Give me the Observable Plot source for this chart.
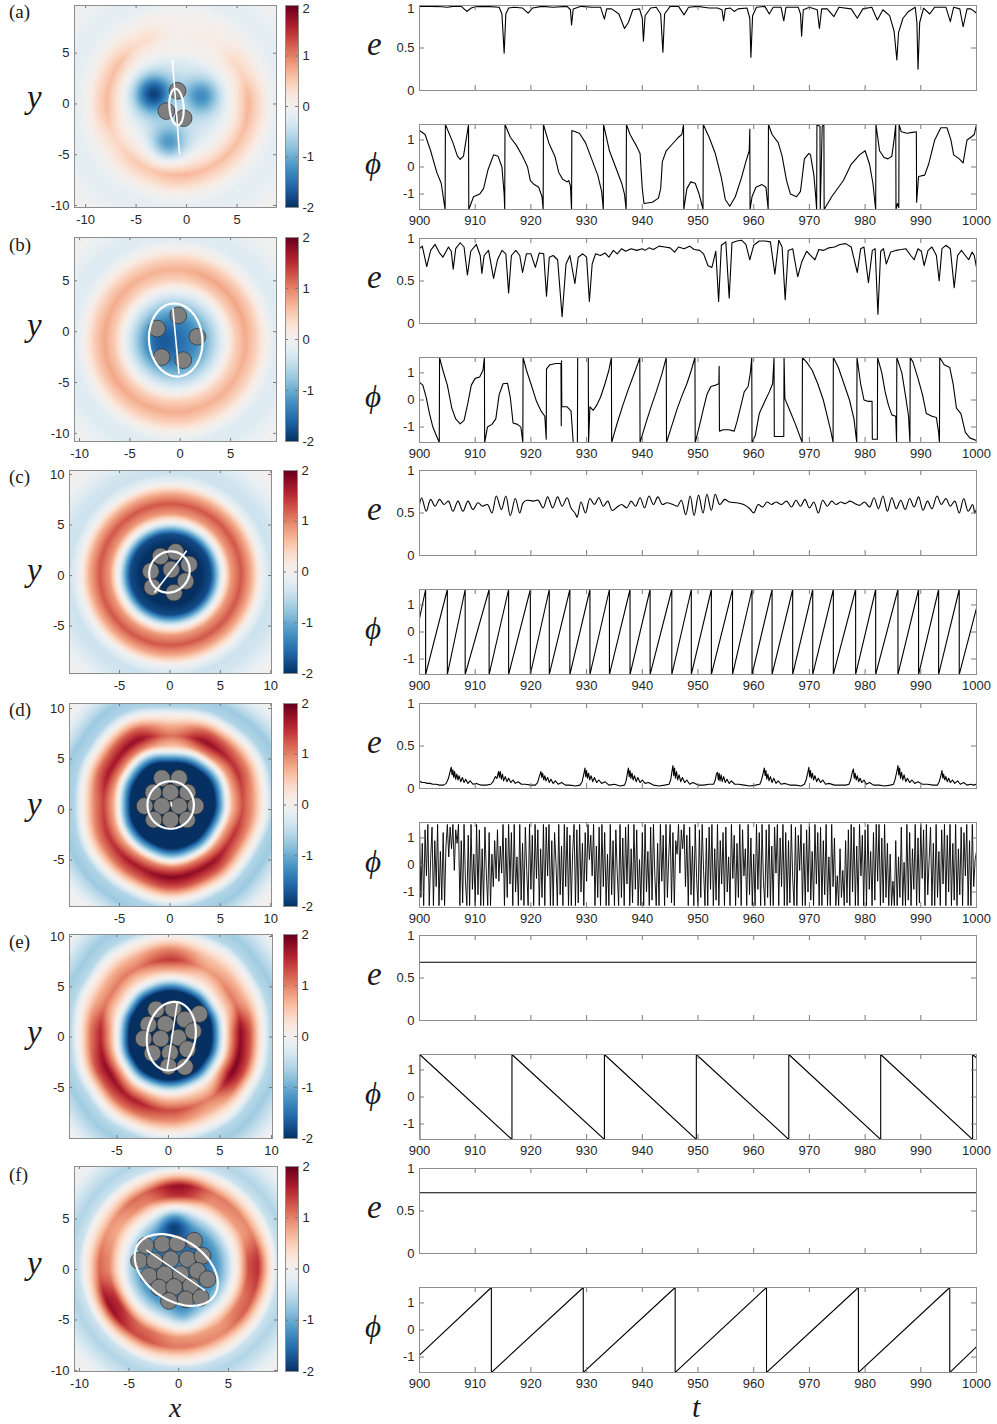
<!DOCTYPE html>
<html><head><meta charset="utf-8">
<script src="https://cdn.jsdelivr.net/npm/d3@7"></script>
<script src="https://cdn.jsdelivr.net/npm/@observablehq/plot@0.6"></script>
<style>
body{margin:0;background:#fff;}
#fig{position:relative;width:997px;height:1424px;overflow:hidden;background:#fff;}
</style></head>
<body><div id="fig"></div>
<script>
// ---------------- DATA ----------------
const HP = 1.5708;
const tTicks = [900,910,920,930,940,950,960,970,980,990,1000];
const eTicks = [0,0.5,1];
const phiTicks = [-1,0,1];
const cbTicks = [-2,-1,0,1,2];
const panelLetters = ["(a)","(b)","(c)","(d)","(e)","(f)"];

// heat-map fields: centre, radial profile (r = 0..14), ring strength at 0°,30°..330°, radial stretch, blobs [x,y,amp,width]
const centA = [-0.9, 0.0];
const profA = [-0.3,-0.35,-0.4,-0.35,-0.25,-0.05,0.3,0.68,0.38,0.0,-0.15,-0.2,-0.12,-0.05,0];
const ampA = [1.0,0.6,0.2,0.1,0.5,0.9,0.95,0.6,0.8,1.0,0.9,0.9];
const shapeA = [1,1,1,1,1,1,1,1,1,1,1,1];
const blobsA = [[-3.3,1.0,-1.5,1.3],[1.5,0.8,-0.9,1.2],[-1.8,-3.9,-0.9,1.2]];

const centB = [-0.5,-0.9];
const profB = [-1.35,-1.35,-1.25,-0.95,-0.5,-0.05,0.5,0.78,0.5,0.05,-0.22,-0.25,-0.15,-0.05,0];
const ampB = [0.95,1,1,0.9,0.9,0.95,1,1,0.95,0.95,0.9,0.9];
const shapeB = [1,1,1,1,1,1,1,1,1,1,1,1];
const blobsB = [[-2,-1,-0.35,1.6]];

const centC = [0.05,0.1];
const profC = [-2,-2,-2,-2,-1.8,-0.25,0.85,1.25,0.75,-0.05,-0.4,-0.35,-0.2,-0.05,0.05];
const ampC = [1,1,1,1,1,1,1,1,1,1,1,1];
const shapeC = [1,1,1,1,1,1,1,1,1,1,1,1];
const blobsC = [];

const centD = [0.2,0.5];
const profD = [-2.5,-2.5,-2.5,-2.5,-2.4,-0.8,1.0,1.85,1.25,0.2,-0.6,-0.72,-0.4,-0.1,0.1];
const ampD = [0.7,0.8,0.95,0.6,0.95,0.9,0.75,0.8,0.9,1.0,0.95,0.8];
const shapeD = [1,1.03,1,0.97,1.03,1,0.97,1,1,1.03,1,0.97];
const blobsD = [];

const centE = [0.2,0.2];
const profE = [-2.5,-2.5,-2.5,-2.4,-2.2,-0.5,0.9,1.9,1.3,0.2,-0.55,-0.7,-0.45,-0.15,0.05];
const ampE = [0.95,0.55,0.45,0.75,0.55,0.55,0.82,0.95,0.85,0.7,0.55,1.0];
const shapeE = [0.97,1,1.05,1.07,1.05,1,0.97,1,1.05,1.07,1.05,1];
const blobsE = [[-1.5,-1.5,-0.6,1.5]];

const centF = [0,0.3];
const profF = [-1.3,-1.4,-1.5,-1.4,-1.1,-0.5,0.3,1.5,1.75,0.5,-0.4,-0.6,-0.4,-0.15,0];
const ampF = [0.85,0.55,0.6,1.0,0.65,0.5,0.65,1.0,0.75,0.6,0.55,0.7];
const shapeF = [1,1,1,1,1,1,1,1,1,1,1,1];
const blobsF = [[-0.5,4.5,-0.8,1.0],[0.5,-4.8,-0.4,1.0]];

// particles
const partsA = [[-0.9,1.3],[-2.0,-0.7],[-0.3,-1.4]];
const partsB = [[-0.2,1.6],[-2.3,0.3],[1.7,-0.5],[-1.85,-2.5],[0.3,-2.8]];
const partsC = [[-0.93,1.9],[0.56,2.34],[1.9,1.1],[0.13,0.6],[-1.9,0.43],[1.55,-0.56],[-1.75,-1.15],[0.4,-1.7]];
const partsD = [[-0.8,3.1],[0.9,3.1],[-1.65,1.7],[0.05,1.7],[1.75,1.7],[-2.5,0.35],[-0.8,0.35],[0.9,0.35],[2.55,0.35],[-1.6,-1.0],[0.05,-1.0],[1.7,-1.0]];
const partsE = [[-1.2,2.75],[0.45,2.8],[3.0,2.3],[1.6,1.75],[-1.95,1.25],[-0.3,1.3],[-2.4,-0.15],[-0.75,-0.15],[0.95,-0.05],[2.4,0.6],[-1.55,-1.6],[0.15,-1.55],[1.85,-1.2],[0.0,-2.9],[1.6,-2.95]];
const partsF = [[-3.33,2.35],[-1.65,2.52],[-0.13,2.58],[1.55,2.85],[-4.0,0.86],[-2.42,0.86],[-0.81,1.03],[0.88,1.03],[2.39,1.36],[-3.0,-0.63],[-1.41,-0.46],[0.2,-0.46],[1.89,-0.13],[2.9,-0.96],[-1.99,-1.79],[-0.47,-1.72],[1.21,-1.62],[-0.98,-3.11],[0.71,-2.95],[2.22,-2.78]];

// ellipses [cx, cy, semi-axis a, semi-axis b, angle°] and axis segments
const ellA = [-1.0,-0.3,1.8,0.7,94];   const segA = [[-1.4,4.3],[-0.7,-4.9]];
const ellB = [-0.45,-0.82,3.6,2.65,95]; const segB = [[-0.73,2.28],[-0.13,-4.08]];
const ellC = [-0.05,0.35,2.1,1.95,52];  const segC = [[-1.52,-1.65],[1.62,2.41]];
const ellD = [0.07,0.45,2.35,2.3,90];   const segD = [[0.1,0.75],[0.15,0.35]];
const ellE = [0.28,0.1,3.43,2.35,81];   const segE = [[-0.13,-3.23],[0.84,3.33]];
const ellF = [-0.25,-0.05,4.6,3.0,-33]; const segF = [[-3.2,1.9],[2.6,-2.05]];

// time series e(t)
const eA = [[900,.99],[902,.99],[904,.985],[905,.98],[906,.99],[907.5,.99],[908.5,.93],[909.3,.97],[910,.985],[912,.99],[914.3,.98],[914.8,.9],[915.2,.44],[915.5,.9],[916,.97],[917,.98],[918.5,.97],[919.5,.91],[920.3,.97],[922,.99],[924,.98],[926.5,.99],[927.1,.95],[927.3,.77],[927.6,.96],[929,.99],[931,.98],[932.5,.98],[933.2,.84],[933.6,.96],[934.5,.96],[935.8,.9],[936.8,.73],[937.5,.8],[938.3,.95],[939.5,.96],[940,.85],[940.2,.58],[940.5,.88],[941.5,.97],[942.5,.98],[943.3,.9],[943.7,.45],[944,.9],[945,.99],[946.5,.99],[947.5,.89],[948.3,.98],[950,.99],[951,.98],[952,.97],[953.5,.97],[954.3,.95],[954.6,.82],[954.9,.96],[955.8,.97],[956.5,.93],[957.2,.96],[958.8,.97],[959.3,.85],[959.5,.39],[959.8,.88],[960.5,.98],[962,.99],[962.8,.9],[963.5,.98],[964.9,.98],[965.4,.82],[965.8,.98],[968,.98],[968.4,.9],[968.6,.64],[968.9,.95],[970,.98],[971.4,.95],[971.8,.73],[972.2,.96],[973.2,.96],[974.4,.87],[975.3,.98],[977.5,.96],[978.6,.85],[979.6,.96],[981.2,.98],[982.2,.83],[983.2,.95],[984.4,.88],[985.2,.7],[985.7,.36],[986,.68],[986.8,.85],[987.8,.93],[989,.98],[989.3,.8],[989.5,.25],[989.8,.8],[990.5,.97],[991.6,.9],[992.5,.98],[994.5,.98],[995.3,.81],[995.9,.98],[997,.96],[997.6,.75],[998.3,.96],[999,.96],[1000,.91]];
const eB = [[900,.88],[900.5,.91],[901.3,.67],[902,.86],[902.8,.93],[903.5,.84],[904.2,.78],[905.2,.9],[905.7,.85],[906.05,.64],[906.5,.88],[907.3,.95],[908,.9],[908.6,.57],[909.2,.85],[910.2,.93],[910.9,.8],[911.2,.59],[911.6,.8],[912.4,.86],[913.3,.53],[914,.75],[914.8,.86],[915.5,.82],[916,.36],[916.5,.8],[917.3,.86],[918,.8],[918.5,.6],[919.2,.82],[920,.82],[920.8,.66],[921.5,.83],[922.3,.82],[922.8,.32],[923.3,.78],[924,.8],[924.8,.75],[925.6,.08],[926.3,.7],[927,.8],[927.9,.47],[928.5,.78],[929.3,.82],[930,.78],[930.5,.26],[931,.7],[931.6,.82],[932.5,.8],[933.3,.83],[934,.78],[934.8,.86],[935.5,.82],[936.3,.88],[937,.85],[938,.88],[939,.86],[940,.88],[940.5,.86],[941.2,.89],[942,.87],[943,.91],[944,.9],[945,.89],[945.8,.84],[946.5,.9],[947.5,.88],[948.5,.91],[949.3,.87],[950.3,.86],[951,.82],[951.8,.68],[952.5,.66],[953.2,.85],[953.7,.26],[954.2,.92],[955,.96],[955.6,.3],[956.1,.95],[957,.97],[957.8,.98],[958.6,.93],[959.3,.75],[960,.92],[961,.97],[962,.97],[963,.96],[963.8,.58],[964.5,.98],[965.1,.9],[965.65,.28],[966.2,.86],[967,.88],[967.9,.55],[968.6,.72],[969.5,.85],[970.5,.78],[971,.75],[971.7,.87],[972.5,.86],[973.5,.89],[974.5,.9],[975.5,.93],[976.5,.94],[977.5,.9],[978.6,.6],[979.2,.88],[979.8,.9],[980.6,.48],[981.3,.86],[981.8,.88],[982.3,.11],[982.8,.85],[983.3,.88],[983.8,.7],[984.6,.84],[985.5,.86],[986.5,.87],[987.3,.88],[988.2,.8],[988.8,.75],[989.5,.88],[990.1,.85],[990.6,.68],[991.3,.86],[992,.9],[992.8,.8],[993.3,.5],[993.8,.88],[994.5,.92],[995.3,.88],[996,.42],[996.6,.8],[997.3,.86],[998,.8],[998.6,.75],[999.2,.84],[999.6,.8],[1000,.66]];
const eC = [[900,.6],[900.4,.68],[901.2,.52],[902,.66],[902.8,.58],[903.6,.66],[904.4,.6],[905.2,.64],[906,.52],[906.9,.64],[907.8,.52],[908.7,.64],[909.6,.54],[910.5,.62],[911.3,.58],[912.2,.6],[913,.5],[913.8,.7],[914.7,.54],[915.5,.7],[916.3,.47],[917.2,.67],[918,.5],[918.6,.62],[919.3,.65],[920.5,.64],[921.3,.65],[922.2,.56],[923,.69],[923.9,.56],[924.8,.69],[925.6,.58],[926.5,.68],[927.2,.56],[928,.49],[928.3,.45],[929,.63],[929.8,.5],[930.6,.67],[931.4,.6],[932.2,.68],[933,.58],[933.8,.64],[934.6,.53],[935.5,.57],[936.3,.6],[937.2,.56],[938,.64],[938.8,.58],[939.6,.68],[940.4,.56],[941.2,.7],[942,.6],[942.8,.69],[943.6,.6],[944.4,.62],[945.5,.6],[946.3,.58],[947,.65],[947.8,.48],[948.6,.7],[949.3,.47],[950.1,.71],[950.9,.5],[951.6,.72],[952.4,.53],[953.1,.72],[953.9,.6],[954.8,.66],[955.6,.63],[957,.62],[958.2,.6],[959.3,.55],[960,.5],[960.8,.6],[961.6,.57],[962.4,.63],[963.2,.6],[964,.63],[965,.6],[965.9,.64],[966.8,.57],[967.6,.65],[968.4,.58],[969.2,.66],[970,.56],[970.8,.63],[971.6,.5],[972.4,.65],[973.2,.58],[974,.64],[974.8,.6],[975.6,.63],[976.4,.61],[977.3,.64],[978.2,.61],[979,.59],[979.9,.63],[980.8,.57],[981.6,.68],[982.4,.55],[983.2,.7],[984,.52],[984.8,.68],[985.6,.55],[986.4,.65],[987.2,.54],[988,.67],[988.8,.57],[989.6,.69],[990.4,.53],[991.2,.64],[992,.55],[992.9,.7],[993.7,.6],[994.5,.67],[995.3,.58],[996.1,.64],[996.9,.5],[997.7,.67],[998.5,.52],[999.3,.6],[999.7,.5],[1000,.55]];
const eD = [[900,.09],[900.4,.07],[900.9,.07],[901.4,.06],[901.9,.06],[902.4,.05],[903,.05],[903.6,.04],[904.3,.04],[904.8,.06],[905.2,.12],[905.5,.2],[905.7,.25],[905.85,.16],[906,.22],[906.15,.13],[906.3,.2],[906.5,.11],[906.7,.17],[906.9,.1],[907.1,.15],[907.4,.08],[907.7,.13],[908,.07],[908.3,.11],[908.7,.06],[909.1,.09],[909.6,.05],[910.2,.06],[911,.04],[912,.04],[912.8,.05],[913.2,.08],[913.6,.14],[913.9,.12],[914.2,.2],[914.35,.13],[914.5,.2],[914.7,.11],[914.9,.17],[915.1,.09],[915.4,.14],[915.7,.08],[916,.12],[916.4,.07],[916.8,.1],[917.2,.06],[917.7,.08],[918.3,.05],[919,.05],[920,.04],[920.8,.04],[921.2,.07],[921.5,.14],[921.8,.2],[921.95,.13],[922.1,.18],[922.3,.1],[922.5,.15],[922.7,.09],[923,.13],[923.3,.07],[923.6,.11],[924,.06],[924.4,.09],[924.9,.05],[925.5,.07],[926.2,.04],[927,.04],[928,.03],[928.8,.04],[929.2,.08],[929.5,.17],[929.7,.24],[929.85,.14],[930,.21],[930.15,.12],[930.35,.18],[930.55,.1],[930.8,.15],[931.1,.08],[931.4,.13],[931.8,.07],[932.2,.1],[932.7,.06],[933.3,.08],[934,.04],[935,.05],[936,.03],[936.8,.04],[937.1,.09],[937.3,.17],[937.5,.24],[937.65,.14],[937.8,.21],[937.95,.12],[938.15,.18],[938.35,.1],[938.6,.15],[938.9,.08],[939.2,.13],[939.6,.07],[940,.1],[940.5,.06],[941.1,.07],[942,.04],[943,.03],[944,.04],[944.8,.05],[945.1,.1],[945.3,.19],[945.5,.27],[945.65,.15],[945.8,.24],[945.95,.12],[946.15,.2],[946.35,.1],[946.6,.16],[946.9,.08],[947.2,.13],[947.6,.07],[948,.1],[948.5,.05],[949.1,.07],[950,.04],[951,.04],[952,.05],[952.8,.05],[953.1,.1],[953.3,.17],[953.5,.19],[953.65,.1],[953.8,.18],[953.95,.09],[954.15,.16],[954.35,.08],[954.6,.14],[954.9,.07],[955.2,.11],[955.6,.06],[956,.09],[956.6,.05],[957.3,.05],[958.3,.04],[959.3,.03],[960.3,.04],[961.1,.05],[961.4,.1],[961.7,.18],[961.9,.24],[962.05,.15],[962.2,.21],[962.35,.11],[962.55,.17],[962.75,.09],[963,.14],[963.3,.07],[963.6,.12],[964,.06],[964.4,.09],[964.9,.05],[965.6,.06],[966.5,.04],[967.5,.04],[968.5,.03],[969.1,.05],[969.4,.1],[969.7,.18],[969.9,.25],[970.05,.14],[970.2,.21],[970.35,.12],[970.55,.18],[970.75,.1],[971,.15],[971.3,.08],[971.6,.12],[972,.07],[972.4,.1],[972.9,.05],[973.5,.06],[974.5,.04],[975.5,.04],[976.5,.04],[977.1,.05],[977.4,.1],[977.7,.19],[977.9,.23],[978.05,.12],[978.2,.18],[978.4,.1],[978.6,.15],[978.85,.08],[979.1,.12],[979.4,.07],[979.8,.1],[980.2,.05],[980.8,.07],[981.5,.04],[982.5,.04],[983.5,.03],[984.5,.04],[985.1,.05],[985.4,.11],[985.7,.2],[985.9,.27],[986.05,.16],[986.2,.24],[986.35,.12],[986.55,.19],[986.75,.1],[987,.16],[987.3,.08],[987.6,.12],[988,.07],[988.4,.1],[988.9,.06],[989.5,.08],[990.3,.05],[991.2,.05],[992.2,.04],[993,.04],[993.3,.08],[993.6,.15],[993.8,.21],[993.95,.12],[994.1,.17],[994.3,.1],[994.5,.14],[994.75,.08],[995,.12],[995.3,.07],[995.7,.1],[996.1,.06],[996.6,.09],[997.1,.05],[997.7,.07],[998.3,.04],[999,.05],[999.5,.04],[1000,.05]];
const eE = [[900,0.685],[1000,0.685]];
const eF = [[900,0.715],[1000,0.715]];

// time series phi(t)
const phiA = [[900,1.35],[901,1.2],[902,0.6],[903.1,-0.2],[903.9,-0.6],[904.4,-1.3],[904.6,-1.57],[904.65,1.57],[906,0.9],[906.8,0.4],[907.3,0.28],[907.9,0.4],[908.6,1.3],[908.8,1.57],[908.85,-1.57],[909.7,-1.1],[910.8,-1.0],[911.5,-0.8],[912.3,-0.1],[913.3,0.45],[914.1,0.4],[914.8,0.0],[915.2,-1.0],[915.3,-1.57],[915.35,1.57],[916.3,1.1],[917.4,0.8],[918.5,0.4],[919.4,0.0],[919.9,-0.5],[920.6,-0.65],[921.4,-0.75],[922,-1.1],[922.2,-1.57],[922.25,1.57],[923.2,0.9],[924.3,0.4],[925,-0.2],[925.7,-0.45],[926.5,-0.55],[926.8,-0.5],[927.1,-0.7],[927.3,-1.57],[927.35,1.35],[928.7,1.25],[929.8,0.9],[930.9,0.3],[932,-0.3],[932.7,-0.9],[933,-1.57],[933.05,1.57],[934.1,0.6],[935.2,0.0],[936.3,-0.6],[936.8,-1.0],[937.1,-1.57],[937.15,1.57],[937.8,1.2],[938.9,0.8],[939.6,0.5],[940,-0.8],[940.3,-1.35],[941.8,-1.3],[942.9,-1.15],[943.3,-0.8],[943.6,0.2],[944.3,0.6],[945.4,0.85],[946.5,1.1],[947.1,1.2],[947.4,1.57],[947.45,-1.57],[948,-0.8],[948.7,-0.55],[949.5,-0.6],[950.2,-1.0],[950.9,-1.57],[950.95,1.57],[952,1.1],[953.1,0.5],[954.2,-0.4],[954.9,-1.2],[955.7,-1.45],[956.7,-1.1],[957.8,-0.4],[958.6,0.2],[959.2,0.6],[959.3,1.4],[959.35,-1.57],[959.7,-1.1],[960.4,-0.75],[961.5,-0.65],[962.2,-0.75],[962.6,-1.57],[962.65,1.57],[963.3,1.2],[964.4,0.9],[965.1,0.4],[965.9,-0.5],[966.6,-1.0],[967.7,-1.1],[968.4,-0.9],[969.1,0.3],[969.9,0.5],[970.2,0.45],[970.8,-0.3],[971.1,-1.0],[971.3,-1.57],[971.35,1.57],[971.9,1.5],[971.95,-1.57],[972.3,1.5],[972.6,1.57],[972.65,-1.57],[974,-1.1],[976.1,-0.5],[977.5,0.1],[979,0.45],[980,0.6],[980.8,0.1],[981.4,-0.6],[981.9,-1.57],[981.95,1.57],[982.6,0.6],[983.4,0.35],[984.1,0.3],[984.8,0.4],[985.2,1.0],[985.5,1.57],[985.55,-1.57],[985.8,-1.35],[986.05,-1.5],[986.1,1.57],[986.5,1.3],[987.5,1.25],[988.5,1.28],[989.2,1.3],[989.25,-1.3],[989.6,-0.35],[990.7,-0.3],[991.4,0.1],[992.5,1.0],[993.6,1.45],[994.7,1.45],[995.4,1.0],[995.9,0.45],[996.9,0.3],[997.6,0.15],[998.3,1.0],[999,1.1],[999.6,1.2],[1000,1.57]];
const phiB = [[900,0.65],[900.6,0.55],[901.2,0.1],[901.8,-0.5],[902.4,-1.0],[903,-1.3],[903.55,-1.57],[903.6,1.57],[904.2,1.1],[905,0.55],[905.8,-0.3],[906.5,-0.7],[907.3,-0.88],[908,-0.75],[908.7,-0.1],[909.3,0.55],[910,0.8],[910.8,0.85],[911.4,1.1],[911.65,1.57],[911.7,-1.57],[912.2,-1.0],[913,-0.9],[913.7,-0.7],[914.3,0.2],[915,0.6],[915.8,0.62],[916.3,0.1],[916.8,-0.85],[917.6,-0.9],[918.2,-1.0],[918.55,-1.57],[918.6,1.57],[919.2,1.1],[920,0.6],[921,-0.05],[921.8,-0.4],[922.5,-0.6],[922.75,-1.45],[922.8,1.15],[923.4,1.3],[924.5,1.35],[925.4,1.35],[925.45,-0.95],[925.5,1.45],[925.55,-0.25],[926.5,-0.25],[927.2,-0.4],[927.6,-1.57],[928.35,-1.57],[928.4,1.57],[930.3,1.57],[930.35,-1.57],[930.6,-0.25],[931.2,-0.38],[931.8,-0.2],[932.5,0.1],[933.3,0.6],[934,1.1],[934.45,1.57],[934.5,-1.57],[935.5,-0.85],[936.5,-0.2],[937.5,0.4],[938.5,0.95],[939.2,1.35],[939.55,1.57],[939.6,-1.57],[940.5,-0.95],[941.5,-0.3],[942.5,0.3],[943.5,0.95],[944.3,1.57],[944.35,-1.57],[945.3,-0.95],[946.3,-0.3],[947.2,0.2],[948,0.6],[948.8,1.1],[949.45,1.57],[949.5,-1.57],[950.2,-1.0],[951,-0.3],[951.6,0.2],[952.3,0.5],[953.2,0.55],[953.75,0.6],[953.8,1.25],[953.85,-1.15],[954.5,-1.1],[955.5,-1.1],[956.5,-1.15],[957,-0.8],[957.6,-0.3],[958.3,0.3],[959,0.5],[959.4,1.0],[959.65,1.57],[959.7,-1.57],[960.3,-1.3],[961,-0.5],[962,-0.05],[962.8,0.3],[963.4,0.6],[963.65,1.57],[963.7,-1.35],[965.4,-1.35],[965.45,1.57],[965.6,0.05],[966.5,-0.4],[967.5,-0.9],[968.7,-1.57],[968.75,1.57],[969.5,1.4],[970.5,1.1],[971.5,0.6],[972.5,0.0],[973.2,-0.6],[973.8,-1.1],[974.25,-1.57],[974.3,1.57],[975.2,1.2],[976.2,0.6],[977.2,0.0],[978,-0.7],[978.5,-1.57],[978.55,1.57],[979.2,0.6],[979.8,0.0],[980.5,-0.05],[981.25,-0.05],[981.3,-1.45],[982.2,-1.45],[982.25,1.57],[983,1.0],[983.6,0.3],[984.2,-0.2],[984.8,-0.55],[985.5,-0.6],[985.65,-1.57],[985.7,1.57],[986.6,1.0],[987.3,0.1],[987.8,-0.6],[988.05,-1.57],[988.1,1.57],[988.6,1.4],[989.5,0.8],[990.3,0.2],[991,-0.5],[992,-0.6],[992.8,-0.65],[993.2,-1.2],[993.35,-1.57],[993.4,1.57],[994.2,1.3],[995.2,1.2],[995.8,0.6],[996.4,-0.3],[997.2,-0.5],[998,-1.2],[998.8,-1.4],[1000,-1.5]];
const phiCStart = [900,0.5], phiCEnd = [1000,0.88];
const phiCJumps = [901.1,905.0,908.2,912.5,916.0,919.9,923.3,927.0,930.6,934.1,937.8,941.4,945.3,948.8,952.4,956.2,959.7,963.3,967.0,970.6,974.3,978.3,981.9,985.9,989.6,993.2,996.9];
const phiDStep = 0.25;
const phiDVals = [
 1.5,-1.2,0.8,-1.5,1.3,-0.4,1.5,-1.5,0.2,1.4, -1.5,0.9,-0.8,1.5,-1.5,0.5,-1.3,1.2,-1.5,0.7,
 1.5,0.3,1.4,0.6,1.5,-0.2,1.3,0.8,1.5,-1.5, 0.9,-1.4,1.5,-0.6,-1.5,1.1,-1.5,1.5,-0.9,0.4,
 -1.5,1.5,-1.1,1.3,-1.5,0.6,-1.5,1.4,-0.3,-1.5, 1.2,-1.5,0.4,-0.8,0.9,-0.5,1.3,-0.6,0.7,-0.3,
 1.5,-1.5,1.0,-1.2,1.5,-0.7,1.2,-1.5,1.5,-1.0, 0.3,-1.5,1.5,-1.3,0.8,-1.5,1.4,-0.2,-1.5,1.5,
 -0.9,1.1,-1.5,1.5,-0.5,1.3,-1.5,0.6,-1.2,1.5, -1.5,1.4,-0.4,1.5,-1.5,0.9,-1.5,1.2,0.1,-1.5,
 1.5,-1.1,0.7,-1.5,1.5,-0.8,1.4,-1.5,1.1,-1.5, 0.5,1.5,-1.5,1.3,-1.4,1.5,-1.0,0.8,-1.5,1.2,
 -0.6,1.5,0.2,1.1,-0.4,1.5,-1.5,0.7,-1.2,1.4, -1.5,1.5,-0.8,1.2,-1.5,0.4,-1.5,1.5,-1.1,0.9,
 -1.5,1.3,-0.3,-1.5,1.5,-1.2,1.0,-1.5,1.4,-0.7, 1.5,-1.5,0.6,-1.4,1.5,-0.9,1.3,-1.5,0.2,-1.5,
 1.2,-1.5,1.5,-1.0,0.5,-1.5,1.4,-1.3,1.5,-0.4, -1.5,0.8,-1.5,1.5,-0.6,1.1,-1.5,1.5,-1.2,0.3,
 1.5,-1.4,1.2,-1.5,0.9,0.4,1.5,-0.3,1.3,0.6, 1.5,-0.8,1.1,-1.5,1.4,-1.1,0.7,-1.5,1.5,-0.5,
 -1.5,1.3,-1.2,1.5,-0.2,-1.5,1.0,-1.5,1.4,-0.9, 1.5,-1.5,0.6,-1.3,1.5,-1.5,0.9,-0.7,1.2,-1.5,
 1.4,-1.0,0.3,-1.5,1.5,-0.5,1.1,-1.5,0.8,-1.2, 1.5,-1.5,1.3,-0.4,0.6,-1.5,1.5,-1.1,1.0,-1.5,
 0.4,-1.5,1.5,-0.9,1.2,-1.5,1.5,-0.6,-1.5,1.3, -1.2,1.5,-1.5,0.7,-1.5,1.4,-0.3,1.5,-1.5,1.0,
 -0.8,1.5,-1.5,1.2,-1.5,0.9,-1.4,1.5,-0.5,-1.5, 1.4,-1.5,1.1,-0.2,1.5,-1.5,0.8,-1.5,1.3,-1.0,
 1.5,-1.3,0.5,-1.5,1.5,-0.7,1.2,-1.5,1.4,-1.5, 0.9,-1.1,1.5,-1.5,0.3,-1.5,1.5,-0.8,1.0,-1.5,
 -0.4,-1.5,0.6,-1.2,-0.2,-1.5,0.9,-1.4,1.3,-1.5, 1.5,-1.0,1.4,-1.5,0.7,-1.5,1.5,-0.4,1.1,-1.5,
 1.3,-1.5,1.5,-0.9,0.5,-1.5,1.2,-1.3,1.5,-0.6, 1.5,-1.5,1.0,-1.4,1.5,-1.2,0.8,-1.5,0.4,-1.5,
 -0.6,-1.5,0.9,-1.5,0.3,-1.2,1.4,-1.5,0.1,-1.5, 1.5,-1.3,1.2,-1.5,0.6,-0.9,1.5,-1.5,1.0,-1.4,
 1.5,-0.5,1.3,-1.5,1.5,-1.1,0.2,1.4,-1.5,0.8, -1.5,1.5,-1.2,0.5,-1.5,1.3,-0.7,1.5,-1.5,1.1,
 -1.0,1.5,-1.5,0.8,-1.3,1.5,-1.5,0.6,-1.1,1.4, -1.5,1.2,-0.4,1.5,-1.5,0.9,-1.5,1.5,-0.8,0.2,
 0.5];
const phiEStart = [900,-1.57], phiEEnd = [1000,1.44];
const phiEJumps = [900.05,916.6,933.2,949.7,966.3,982.8,999.3];
const phiFStart = [900,-0.93], phiFEnd = [1000,-0.62];
const phiFJumps = [912.9,929.4,945.9,962.3,978.8,995.2];

// ---------------- LAYOUT ----------------
const heatFrames = [ // left, top, width, height, xDomain, yDomain, xTicks, yTicks
  [74,5,202,202,[-11.1,8.9],[-10.2,9.7],[-10,-5,0,5],[-10,-5,0,5]],
  [74,237,202,204,[-10.5,9.56],[-10.8,9.26],[-10,-5,0,5],[-10,-5,0,5]],
  [69,470,202,203,[-9.96,10.07],[-9.7,10.4],[-5,0,5,10],[-5,0,5,10]],
  [69,703,202,203,[-9.96,10.07],[-9.6,10.5],[-5,0,5,10],[-5,0,5,10]],
  [69,934,203,204,[-9.6,10.1],[-10.07,10.2],[-5,0,5,10],[-5,0,5,10]],
  [74,1166,203,205,[-10.5,9.95],[-10.1,10.2],[-10,-5,0,5],[-10,-5,0,5]]
];
const cbFrames = [[285,5,13,202],[285,237,13,204],[283,470,14,203],[283,703,14,203],[283,934,14,204],[285,1166,13,205]];
const tsTops = [5,238,470,703,935,1168];
const TSX = 419, TSW = 557, TSH = 85, PHIOFF = 118.5;

// ---------------- HELPERS ----------------
const fig = document.getElementById("fig");
const FRAME = "#8e8e8e", TICK = "#7a7a7a";
const baseStyle = {fontSize: "13px", fontFamily: "'Liberation Sans', Arial, sans-serif", color: "#262626", background: "transparent", overflow: "visible"};
const fmt = d => String(d);
function place(svg, left, top) {
  svg.style.position = "absolute"; svg.style.left = left + "px"; svg.style.top = top + "px";
  svg.style.maxWidth = "none";
  fig.appendChild(svg);
}
function periodic(arr, th) {
  const k = th / 30, i0 = Math.floor(k) % 12, i1 = (i0 + 1) % 12;
  let f = k - Math.floor(k); f = (1 - Math.cos(Math.PI * f)) / 2;
  return arr[i0] * (1 - f) + arr[i1] * f;
}
function makeField(cent, prof, amp, shape, blobs) {
  return (x, y) => {
    const u = x - cent[0], v = y - cent[1];
    const r = Math.hypot(u, v);
    const th = (Math.atan2(v, u) * 180 / Math.PI + 360) % 360;
    const rr = r / periodic(shape, th);
    const j = Math.min(Math.floor(rr), prof.length - 2), g = Math.min(rr - j, 1);
    let val = prof[j] * (1 - g) + prof[j + 1] * g;
    if (val > 0) val *= periodic(amp, th);
    for (const b of blobs) val += b[2] * Math.exp(-((x - b[0]) ** 2 + (y - b[1]) ** 2) / (2 * b[3] * b[3]));
    return Math.max(-2, Math.min(2, val));
  };
}
function ellPts([cx, cy, a, b, ang]) {
  const th = ang * Math.PI / 180;
  return d3.range(0, 361, 4).map(d => {
    const s = d * Math.PI / 180, X = a * Math.cos(s), Y = b * Math.sin(s);
    return {x: cx + X * Math.cos(th) - Y * Math.sin(th), y: cy + X * Math.sin(th) + Y * Math.cos(th)};
  });
}
const colorScale = {type: "linear", scheme: "RdBu", reverse: true, domain: [-2, 2]};
// y-axis labels; the one sitting on the very top edge of the page is nudged down a little
function yAxisMarks(ticks, anchor, padding, nudgeTop) {
  if (!nudgeTop) return [Plot.axisY({anchor, ticks, tickSize: 0, tickPadding: padding, tickFormat: fmt, label: null})];
  const top = d3.max(ticks);
  return [
    Plot.axisY({anchor, ticks: ticks.filter(d => d !== top), tickSize: 0, tickPadding: padding, tickFormat: fmt, label: null}),
    Plot.axisY({anchor, ticks: [top], tickSize: 0, tickPadding: padding, tickFormat: fmt, label: null, dy: 3})
  ];
}

function heatPanel(fr, field, parts, ell, seg) {
  const [fx, fy, w, h, xd, yd, xt, yt] = fr;
  const ML = 46, MR = 4, MT = 4, MB = 24;
  const svg = Plot.plot({
    width: w + ML + MR, height: h + MT + MB,
    marginLeft: ML, marginRight: MR, marginTop: MT, marginBottom: MB,
    x: {domain: xd, axis: null}, y: {domain: yd, axis: null},
    color: colorScale, style: baseStyle,
    marks: [
      Plot.raster({fill: field, x1: xd[0], x2: xd[1], y1: yd[0], y2: yd[1], pixelSize: 1}),
      Plot.dot(parts, {x: d => d[0], y: d => d[1], r: 8.4, fill: "#7f7f7f", stroke: "#2e2e2e", strokeWidth: 0.7}),
      Plot.line(ellPts(ell), {x: "x", y: "y", stroke: "white", strokeWidth: 2.2}),
      Plot.line(seg, {x: d => d[0], y: d => d[1], stroke: "white", strokeWidth: 1.6}),
      Plot.tickX(xt, {x: d => d, insetTop: h - 3, stroke: TICK}),
      Plot.tickX(xt, {x: d => d, insetBottom: h - 3, stroke: TICK}),
      Plot.tickY(yt, {y: d => d, insetRight: w - 3, stroke: TICK}),
      Plot.tickY(yt, {y: d => d, insetLeft: w - 3, stroke: TICK}),
      Plot.frame({stroke: FRAME}),
      Plot.axisX({ticks: xt, tickSize: 0, tickPadding: 7, tickFormat: fmt, label: null}),
      ...yAxisMarks(yt, "left", 5, false)
    ]
  });
  place(svg, fx - ML, fy - MT);
}
function colorbar(cb, nudge) {
  const [fx, fy, w, h] = cb;
  const ML = 1, MR = 26, MT = 4, MB = 4;
  const svg = Plot.plot({
    width: w + ML + MR, height: h + MT + MB,
    marginLeft: ML, marginRight: MR, marginTop: MT, marginBottom: MB,
    x: {domain: [0, 1], axis: null}, y: {domain: [-2, 2], axis: null},
    color: colorScale, style: baseStyle,
    marks: [
      Plot.raster({fill: (x, y) => y, x1: 0, x2: 1, y1: -2, y2: 2, pixelSize: 1}),
      Plot.tickY([-1, 0, 1], {y: d => d, insetRight: w - 3, stroke: TICK}),
      Plot.tickY([-1, 0, 1], {y: d => d, insetLeft: w - 3, stroke: TICK}),
      Plot.frame({stroke: FRAME}),
      ...yAxisMarks(cbTicks, "right", 4, nudge)
    ]
  });
  place(svg, fx - ML, fy - MT);
}
function tsPanel(top, pts, yd, yt, innerY, labels, nudge, curve, sw) {
  const ML = 44, MR = 26, MT = 4, MB = labels ? 20 : 4;
  const inner = [910,920,930,940,950,960,970,980,990];
  const marks = [
    Plot.line(pts, {x: d => d[0], y: d => d[1], stroke: "#000", strokeWidth: sw || 1.1, clip: true, curve: curve || "linear"}),
    Plot.tickX(inner, {x: d => d, insetTop: TSH - 5, stroke: TICK}),
    Plot.tickX(inner, {x: d => d, insetBottom: TSH - 5, stroke: TICK}),
    Plot.tickY(innerY, {y: d => d, insetRight: TSW - 5, stroke: TICK}),
    Plot.tickY(innerY, {y: d => d, insetLeft: TSW - 5, stroke: TICK}),
    Plot.frame({stroke: FRAME}),
    ...yAxisMarks(yt, "left", 5, nudge)
  ];
  if (labels) marks.push(Plot.axisX({ticks: tTicks, tickSize: 0, tickPadding: 6, tickFormat: fmt, label: null}));
  const svg = Plot.plot({
    width: TSW + ML + MR, height: TSH + MT + MB,
    marginLeft: ML, marginRight: MR, marginTop: MT, marginBottom: MB,
    x: {domain: [900, 1000], axis: null}, y: {domain: yd, axis: null},
    style: baseStyle, marks
  });
  place(svg, TSX - ML, top - MT);
}
function saw(start, jumps, end, before, after) {
  const p = [start];
  for (const j of jumps) p.push([j, before], [j, after]);
  p.push(end);
  return p;
}

// ---------------- BUILD ----------------
const fields = [
  makeField(centA, profA, ampA, shapeA, blobsA), makeField(centB, profB, ampB, shapeB, blobsB),
  makeField(centC, profC, ampC, shapeC, blobsC), makeField(centD, profD, ampD, shapeD, blobsD),
  makeField(centE, profE, ampE, shapeE, blobsE), makeField(centF, profF, ampF, shapeF, blobsF)
];
const partsAll = [partsA, partsB, partsC, partsD, partsE, partsF];
const ellAll = [ellA, ellB, ellC, ellD, ellE, ellF];
const segAll = [segA, segB, segC, segD, segE, segF];
const eAll = [eA, eB, eC, eD, eE, eF];
const eCurves = ["linear", "linear", "catmull-rom", "linear", "linear", "linear"];
const phiD = phiDVals.map((v, i) => [900 + i * phiDStep, v]);
const phiAll = [
  phiA, phiB,
  saw(phiCStart, phiCJumps, phiCEnd, HP, -HP),
  phiD,
  saw(phiEStart, phiEJumps, phiEEnd, -HP, HP),
  saw(phiFStart, phiFJumps, phiFEnd, HP, -HP)
];

for (let i = 0; i < 6; i++) {
  heatPanel(heatFrames[i], fields[i], partsAll[i], ellAll[i], segAll[i]);
  colorbar(cbFrames[i], i === 0);
  tsPanel(tsTops[i], eAll[i], [0, 1], eTicks, [0.5], false, i === 0, eCurves[i], 1.1);
  tsPanel(tsTops[i] + PHIOFF, phiAll[i], [-HP, HP], phiTicks, phiTicks, true, false, "linear", i === 3 ? 0.9 : 1.1);
}

// ---------------- TEXT LABELS ----------------
const NS = "http://www.w3.org/2000/svg";
const ov = document.createElementNS(NS, "svg");
ov.setAttribute("width", 997); ov.setAttribute("height", 1424);
ov.style.position = "absolute"; ov.style.left = "0"; ov.style.top = "0"; ov.style.pointerEvents = "none";
fig.appendChild(ov);
function txt(x, y, s, size, italic) {
  const t = document.createElementNS(NS, "text");
  t.setAttribute("x", x); t.setAttribute("y", y);
  t.setAttribute("font-family", "'Liberation Serif', 'DejaVu Serif', serif");
  t.setAttribute("font-size", size);
  if (italic) t.setAttribute("font-style", "italic");
  t.setAttribute("fill", "#1a1a1a");
  t.textContent = s;
  ov.appendChild(t);
}
const letterBase = [18, 251, 483, 716, 948, 1181];
const yBase = [108, 336, 581, 815, 1043, 1274];
for (let i = 0; i < 6; i++) {
  txt(9, letterBase[i], panelLetters[i], 19, false);
  txt(27, yBase[i], "y", 33, true);
  txt(367, tsTops[i] + 50, "e", 33, true);
  txt(365, tsTops[i] + PHIOFF + 50, "ϕ", 31, true);
}
txt(169, 1417, "x", 28, true);
txt(692, 1417, "t", 30, true);
</script></body></html>
